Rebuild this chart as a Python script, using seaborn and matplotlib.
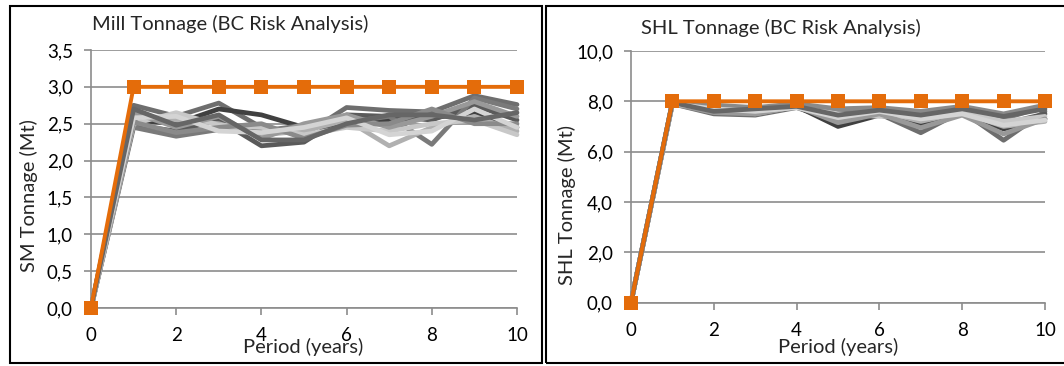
import numpy as np
import pandas as pd
import matplotlib
matplotlib.use("Agg")
import matplotlib.pyplot as plt
import seaborn as sns
from matplotlib.patches import Rectangle

# ── DATA ─────────────────────────────────────────────────────────
years = [0, 1, 2, 3, 4, 5, 6, 7, 8, 9, 10]

# mill tonnage (Mt) per risk scenario, year 0 is zero
mill_target = [0.0, 3.0, 3.0, 3.0, 3.0, 3.0, 3.0, 3.0, 3.0, 3.0, 3.0]
mill_sims = [
    [0.0, 2.75, 2.60, 2.78, 2.45, 2.35, 2.72, 2.68, 2.66, 2.88, 2.76],
    [0.0, 2.55, 2.50, 2.70, 2.62, 2.45, 2.50, 2.55, 2.58, 2.65, 2.45],
    [0.0, 2.48, 2.40, 2.55, 2.20, 2.25, 2.62, 2.60, 2.55, 2.75, 2.55],
    [0.0, 2.45, 2.33, 2.42, 2.40, 2.48, 2.52, 2.60, 2.22, 2.85, 2.70],
    [0.0, 2.60, 2.55, 2.50, 2.35, 2.40, 2.55, 2.20, 2.45, 2.60, 2.40],
    [0.0, 2.50, 2.65, 2.48, 2.45, 2.35, 2.45, 2.40, 2.50, 2.55, 2.35],
    [0.0, 2.65, 2.45, 2.60, 2.30, 2.50, 2.62, 2.45, 2.60, 2.80, 2.60],
    [0.0, 2.52, 2.38, 2.45, 2.50, 2.30, 2.48, 2.50, 2.70, 2.50, 2.50],
    [0.0, 2.58, 2.60, 2.40, 2.38, 2.45, 2.58, 2.35, 2.40, 2.70, 2.45],
    [0.0, 2.70, 2.48, 2.62, 2.28, 2.28, 2.50, 2.62, 2.62, 2.55, 2.65],
]

# SHL tonnage (Mt)
shl_target = [0.0, 8.0, 8.0, 8.0, 8.0, 8.0, 8.0, 8.0, 8.0, 8.0, 8.0]
shl_sims = [
    [0.0, 7.90, 7.50, 7.45, 7.75, 7.20, 7.50, 6.75, 7.60, 6.45, 7.60],
    [0.0, 7.95, 7.60, 7.55, 7.80, 7.00, 7.45, 7.10, 7.50, 6.90, 7.30],
    [0.0, 7.90, 7.70, 7.60, 7.85, 7.40, 7.55, 7.30, 7.65, 7.10, 7.50],
    [0.0, 7.95, 7.80, 7.70, 7.90, 7.60, 7.70, 7.50, 7.70, 7.30, 7.80],
    [0.0, 7.90, 7.65, 7.50, 7.80, 7.30, 7.60, 7.20, 7.55, 7.00, 7.20],
    [0.0, 7.95, 7.75, 7.65, 7.85, 7.50, 7.40, 7.40, 7.60, 7.20, 7.40],
    [0.0, 7.90, 7.55, 7.50, 7.80, 7.15, 7.50, 6.95, 7.45, 6.70, 7.30],
    [0.0, 7.95, 7.85, 7.75, 7.90, 7.70, 7.75, 7.60, 7.80, 7.50, 7.85],
    [0.0, 7.90, 7.70, 7.60, 7.75, 7.35, 7.60, 7.30, 7.50, 7.05, 7.25],
    [0.0, 7.95, 7.60, 7.70, 7.80, 7.45, 7.65, 7.45, 7.70, 7.40, 7.70],
]

grays = ["#6e6e6e", "#404040", "#5a5a5a", "#7a7a7a", "#b0b0b0",
         "#c8c8c8", "#999999", "#8a8a8a", "#d4d4d4", "#666666"]
orange = "#E46C0A"

mill_yticks = [0.0, 0.5, 1.0, 1.5, 2.0, 2.5, 3.0, 3.5]
mill_ylabels = ["0,0", "0,5", "1,0", "1,5", "2,0", "2,5", "3,0", "3,5"]
shl_yticks = [0.0, 2.0, 4.0, 6.0, 8.0, 10.0]
shl_ylabels = ["0,0", "2,0", "4,0", "6,0", "8,0", "10,0"]
xticks = [0, 2, 4, 6, 8, 10]


def to_long(sims):
    rows = []
    for i, s in enumerate(sims):
        for yr, v in zip(years, s):
            rows.append({"year": yr, "value": v, "sim": f"s{i}"})
    return pd.DataFrame(rows)


sns.set_style("white")
plt.rcParams["font.family"] = ["Lato", "DejaVu Sans"]

W, H = 1064, 366
fig = plt.figure(figsize=(W / 100, H / 100), dpi=100)

# panel borders
fig.add_artist(Rectangle((10 / W, 1 - 363 / H), 532 / W, 357 / H, transform=fig.transFigure,
                         fill=False, edgecolor="black", linewidth=1.5))
fig.add_artist(Rectangle((546 / W, 1 - 363 / H), 530 / W, 357 / H, transform=fig.transFigure,
                         fill=False, edgecolor="black", linewidth=1.5))

ax1 = fig.add_axes([91 / W, 1 - 308 / H, 426 / W, 258 / H])
ax2 = fig.add_axes([631 / W, 1 - 302.5 / H, 414 / W, 251.5 / H])

panels = [
    (ax1, mill_sims, mill_target, mill_yticks, mill_ylabels, 3.5),
    (ax2, shl_sims, shl_target, shl_yticks, shl_ylabels, 10.0),
]

for ax, sims, target, yt, yl, ymax in panels:
    df = to_long(sims)
    pal = {f"s{i}": grays[i] for i in range(len(sims))}
    sns.lineplot(data=df, x="year", y="value", hue="sim", palette=pal,
                 linewidth=3.4, legend=False, ax=ax, clip_on=False)
    sns.lineplot(x=years, y=target, color=orange, linewidth=2.8, marker="s",
                 markersize=10.5, markeredgewidth=0, ax=ax, clip_on=False, zorder=5)
    ax.set_xlim(0, 10)
    ax.set_ylim(0, ymax)
    ax.set_xticks(xticks)
    ax.set_xticklabels([str(t) for t in xticks])
    ax.set_yticks(yt)
    ax.set_yticklabels(yl)
    ax.yaxis.grid(True, color="#8c8c8c", linewidth=1.2)
    ax.set_axisbelow(True)
    for side in ["top", "right"]:
        ax.spines[side].set_visible(False)
    for side in ["left", "bottom"]:
        ax.spines[side].set_color("#8c8c8c")
        ax.spines[side].set_linewidth(1.2)
    ax.tick_params(axis="both", which="both", length=5, width=1.2, color="#8c8c8c",
                   labelsize=13.5, labelcolor="black", direction="out", left=True, bottom=True)
    ax.tick_params(axis="x", pad=9)
    ax.tick_params(axis="y", pad=8)
    ax.set_xlabel("")
    ax.set_ylabel("")

# titles & axis labels placed like the Excel layout
fig.text(92 / W, 1 - 24 / H, "Mill Tonnage (BC Risk Analysis)", fontsize=14.5, va="center", ha="left")
fig.text(641 / W, 1 - 28 / H, "SHL Tonnage (BC Risk Analysis)", fontsize=14.5, va="center", ha="left")
fig.text(303 / W, 1 - 347 / H, "Period (years)", fontsize=14.5, va="center", ha="center")
fig.text(838 / W, 1 - 347 / H, "Period (years)", fontsize=14.5, va="center", ha="center")
fig.text(29 / W, 1 - 196 / H, "SM Tonnage (Mt)", fontsize=14.5, va="center", ha="center", rotation=90)
fig.text(567 / W, 1 - 205 / H, "SHL Tonnage (Mt)", fontsize=14.5, va="center", ha="center", rotation=90)

fig.savefig("out.png", dpi=100)
